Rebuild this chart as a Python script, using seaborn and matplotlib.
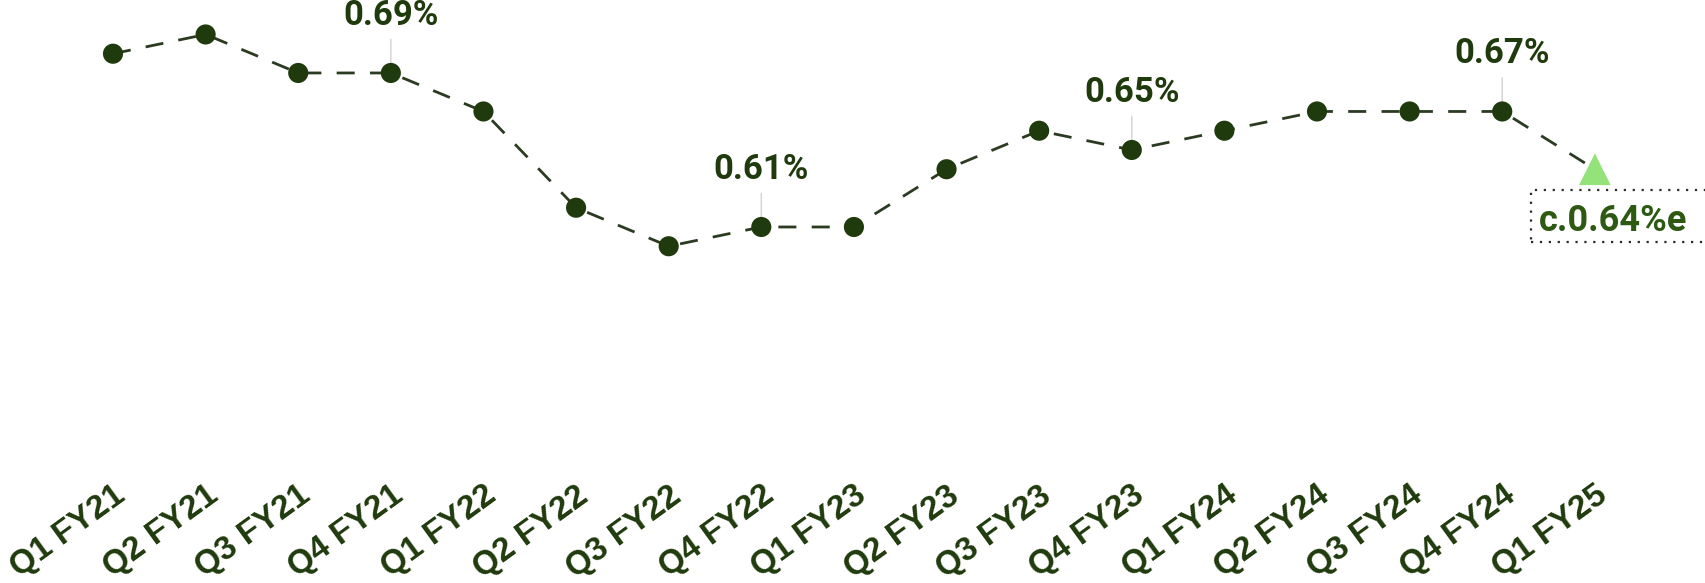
import matplotlib
matplotlib.use("Agg")
import matplotlib.pyplot as plt
import matplotlib.transforms as mtransforms
from matplotlib.patches import Rectangle
import seaborn as sns
import pandas as pd

# Quarterly series (percent)
quarters = ["Q1 FY21", "Q2 FY21", "Q3 FY21", "Q4 FY21", "Q1 FY22", "Q2 FY22",
            "Q3 FY22", "Q4 FY22", "Q1 FY23", "Q2 FY23", "Q3 FY23", "Q4 FY23",
            "Q1 FY24", "Q2 FY24", "Q3 FY24", "Q4 FY24", "Q1 FY25"]
actual = [0.70, 0.71, 0.69, 0.69, 0.67, 0.62, 0.60, 0.61, 0.61, 0.64, 0.66,
          0.65, 0.66, 0.67, 0.67, 0.67]
estimate = 0.64
labelled = ["Q4 FY21", "Q4 FY22", "Q4 FY23", "Q4 FY24"]
estimate_label = "c.0.64%e"

DARK = "#1f3a0c"
LINE = "#2b3b22"
EST_TEXT = "#2e5912"
EST_MARK = "#93e27a"

sns.set_theme(style="white")
plt.rcParams["font.family"] = ["Roboto", "DejaVu Sans"]

pos = list(range(len(quarters)))
df = pd.DataFrame({"pos": pos, "value": actual + [estimate]})
df_act = df.iloc[:len(actual)]
df_est = df.iloc[len(actual):]

fig = plt.figure(figsize=(17.06, 5.83), dpi=100)
ax = fig.add_axes([0, 0.184, 1, 0.816])

sns.lineplot(data=df, x="pos", y="value", ax=ax, color=LINE, lw=2.0,
             linestyle=(0, (6.5, 5.5)), zorder=2)
sns.scatterplot(data=df_act, x="pos", y="value", ax=ax, color=DARK, s=210,
                edgecolor="none", zorder=3)
sns.scatterplot(data=df_est, x="pos", y="value", ax=ax, color=EST_MARK,
                marker="^", s=520, edgecolor="none", zorder=3)

# value callouts with thin leader lines
for q in labelled:
    i = quarters.index(q)
    v = actual[i]
    ax.annotate(f"{v:.2f}%", xy=(i, v), xytext=(0, 29.5),
                textcoords="offset points", ha="center", va="bottom",
                fontsize=25, fontweight="bold", color=DARK,
                arrowprops=dict(arrowstyle="-", color="#d6d6d6", lw=1.1,
                                shrinkA=3, shrinkB=0), zorder=1)

ei = len(quarters) - 1
est_txt = ax.annotate(estimate_label, xy=(ei, estimate), xytext=(-40, -24),
                      textcoords="offset points", ha="left", va="top",
                      fontsize=26, fontweight="bold", color=EST_TEXT, zorder=4)

ax.set_xlim(-1.22, 17.2)
ax.set_ylim(0.4808, 0.7279)
ax.set_xticks(pos)
ax.set_xticklabels(quarters, rotation=36, ha="right", va="top",
                   rotation_mode="anchor", fontsize=24, fontweight="bold",
                   color=DARK, family=["Liberation Sans", "DejaVu Sans"])
shift = mtransforms.ScaledTranslation(4 / 100, 0, fig.dpi_scale_trans)
for lab in ax.get_xticklabels():
    lab.set_transform(lab.get_transform() + shift)
ax.tick_params(axis="x", length=0, pad=3)
ax.set_yticks([])
ax.set_xlabel("")
ax.set_ylabel("")
for s in ax.spines.values():
    s.set_visible(False)

# dotted frame around the estimate label, running off the right edge
fig.canvas.draw()
bb = est_txt.get_window_extent()
x0 = bb.x0 - 8
y0 = bb.y0 - 3
h = bb.height + 16
box = Rectangle((x0, y0), fig.bbox.width - x0 + 20, h, transform=None,
                fill=False, ec="#2a2a2a", lw=1.6, ls=(0, (1, 3)), zorder=5)
fig.add_artist(box)

fig.savefig("out.png", dpi=100, facecolor="white")
